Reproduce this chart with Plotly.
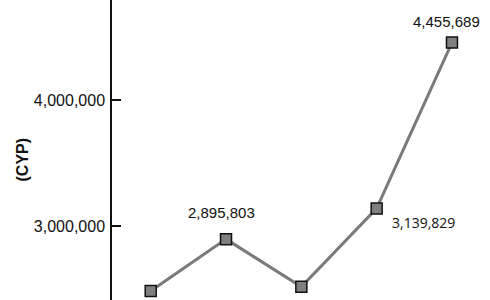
import plotly.graph_objects as go

categories = ["P1", "P2", "P3", "P4", "P5"]
cyp_values = [2484000, 2895803, 2518000, 3139829, 4455689]
label_texts = ["", "2,895,803", "", "3,139,829", "4,455,689"]
y_tick_values = [2000000, 3000000, 4000000, 5000000]
y_tick_labels = ["2,000,000", "3,000,000", "4,000,000", "5,000,000"]

# label styling (offsets in px relative to the marker)
label_styles = {
    1: dict(xshift=-5, yshift=27, family="Liberation Sans, Arial, sans-serif", size=15),
    3: dict(xshift=47, yshift=-14, family="Open Sans, sans-serif", size=14),
    4: dict(xshift=-5, yshift=21, family="Liberation Sans, Arial, sans-serif", size=15),
}

fig = go.Figure()
fig.add_trace(go.Scatter(
    x=list(range(len(categories))),
    y=cyp_values,
    mode="lines+markers",
    line=dict(color="#7a7a7a", width=3),
    marker=dict(symbol="square", size=11, color="#7f7f7f",
                line=dict(color="#111111", width=1.5)),
    hoverinfo="skip",
))

for i, txt in enumerate(label_texts):
    if not txt:
        continue
    st = label_styles[i]
    fig.add_annotation(
        x=i, y=cyp_values[i], text=txt, showarrow=False,
        xshift=st["xshift"], yshift=st["yshift"],
        font=dict(family=st["family"], size=st["size"], color="#111111"),
        xanchor="center", yanchor="middle",
    )

fig.add_annotation(
    xref="paper", yref="paper", x=0, y=1 - 160 / 300, xshift=-90.5,
    text="<b>(CYP)</b>", textangle=-90, showarrow=False,
    font=dict(family="Liberation Sans, Arial, sans-serif", size=16, color="#111111"),
    xanchor="center", yanchor="middle",
)

fig.update_layout(
    width=490, height=300,
    margin=dict(l=112, r=0, t=0, b=0),
    paper_bgcolor="white", plot_bgcolor="white",
    showlegend=False,
    xaxis=dict(visible=False, range=[-0.514, 4.505]),
    yaxis=dict(
        range=[2412698, 4793651],
        tickvals=y_tick_values, ticktext=y_tick_labels,
        ticks="inside", ticklen=9, tickwidth=1.5, tickcolor="#111111",
        showline=True, linecolor="#111111", linewidth=1.5,
        showgrid=False, zeroline=False, automargin=False,
        ticklabelstandoff=2,
        tickfont=dict(family="Liberation Sans, Arial, sans-serif", size=16, color="#111111"),
    ),
)

fig.write_html("out.html")
